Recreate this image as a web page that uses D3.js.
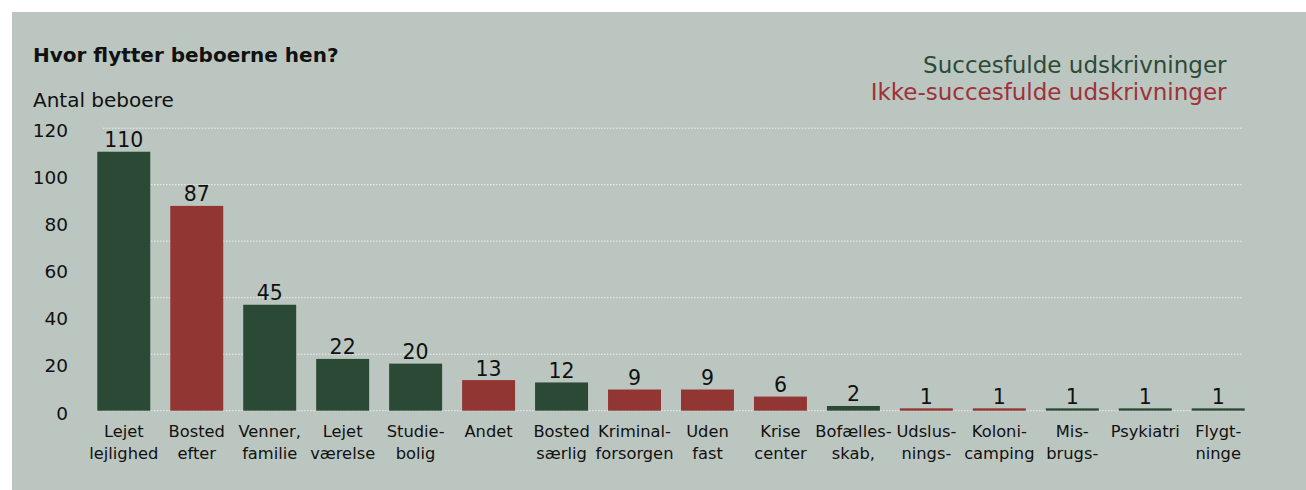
<!DOCTYPE html>
<html><head><meta charset="utf-8">
<script src="https://cdn.jsdelivr.net/npm/d3@7"></script>
<style>html,body{margin:0;padding:0;background:#fff;}svg{display:block;}</style>
</head><body>
<script>
const categories = [
  ["Lejet","lejlighed"], ["Bosted","efter"], ["Venner,","familie"], ["Lejet","værelse"],
  ["Studie-","bolig"], ["Andet"], ["Bosted","særlig"], ["Kriminal-","forsorgen"],
  ["Uden","fast"], ["Krise","center"], ["Bofælles-","skab,"], ["Udslus-","nings-"],
  ["Koloni-","camping"], ["Mis-","brugs-"], ["Psykiatri"], ["Flygt-","ninge"]
];
const values = [110, 87, 45, 22, 20, 13, 12, 9, 9, 6, 2, 1, 1, 1, 1, 1];
const successful = [true, false, true, true, true, false, true, false, false, false, true, false, false, true, true, true];
const tickValues = [0, 20, 40, 60, 80, 100, 120];
const gridValues = [0, 24, 48, 72, 96, 120];
const legendLabels = ["Succesfulde udskrivninger", "Ikke-succesfulde udskrivninger"];
const title = "Hvor flytter beboerne hen?";
const yTitle = "Antal beboere";

const W = 1306, H = 490;
const GREEN = "#2b4a36", RED = "#913632";
const svg = d3.select("body").append("svg").attr("width", W).attr("height", H);
svg.append("rect").attr("x", 12).attr("y", 12).attr("width", W - 12).attr("height", H - 12).attr("fill", "#bcc6c0");

const idx = d3.range(values.length);
const x = d3.scaleBand().domain(idx).range([87.3, 1254.7]).paddingInner(0.274).paddingOuter(0.137);
const y = d3.scaleLinear().domain([0, 120]).range([410.7, 128.2]);

// gridlines
svg.append("g").selectAll("line").data(gridValues).join("line")
  .attr("x1", 103).attr("x2", 1242)
  .attr("y1", d => y(d)).attr("y2", d => y(d))
  .attr("stroke", "#eef0ee").attr("stroke-width", 1).attr("stroke-dasharray", "1.5,1.5");

// y tick labels via axis
const yAxis = svg.append("g").attr("transform", "translate(68,0)")
  .call(d3.axisLeft(y).tickValues(tickValues).tickSize(0).tickPadding(0));
yAxis.select(".domain").remove();
yAxis.selectAll("text").attr("font-family", "DejaVu Sans").attr("font-size", 18.5).attr("fill", "#111").attr("dy", "0.45em");

// bars
svg.append("g").selectAll("rect").data(idx).join("rect")
  .attr("x", i => x(i)).attr("width", x.bandwidth())
  .attr("y", i => y(values[i])).attr("height", i => y(0) - y(values[i]))
  .attr("fill", i => successful[i] ? GREEN : RED);

// value labels
svg.append("g").selectAll("text").data(idx).join("text")
  .attr("x", i => x(i) + x.bandwidth() / 2).attr("y", i => y(values[i]) - 4.5)
  .attr("text-anchor", "middle").attr("font-family", "DejaVu Sans").attr("font-size", 20.5).attr("fill", "#111")
  .text(i => values[i]);

// category labels
const cat = svg.append("g").selectAll("text").data(idx).join("text")
  .attr("text-anchor", "middle").attr("font-family", "DejaVu Sans").attr("font-size", 16.3).attr("fill", "#111");
cat.selectAll("tspan").data(i => categories[i].map(l => ({ l, i }))).join("tspan")
  .attr("x", d => x(d.i) + x.bandwidth() / 2)
  .attr("y", (d, k) => y(0) + 26.5 + k * 21.5)
  .text(d => d.l);

// title
svg.append("text").attr("x", 33).attr("y", 61.5).attr("font-family", "DejaVu Sans").attr("font-weight", "bold")
  .attr("font-size", 20).attr("fill", "#111").text(title);
svg.append("text").attr("x", 33).attr("y", 106.5).attr("font-family", "DejaVu Sans")
  .attr("font-size", 20).attr("fill", "#111").text(yTitle);

// legend
svg.append("g").selectAll("text").data(legendLabels).join("text")
  .attr("x", 1226.5).attr("y", (d, k) => 72.5 + k * 27.5)
  .attr("text-anchor", "end").attr("font-family", "DejaVu Sans").attr("font-size", 23)
  .attr("fill", (d, k) => k === 0 ? "#2c4a38" : "#9e313a").text(d => d);
</script>
</body></html>
